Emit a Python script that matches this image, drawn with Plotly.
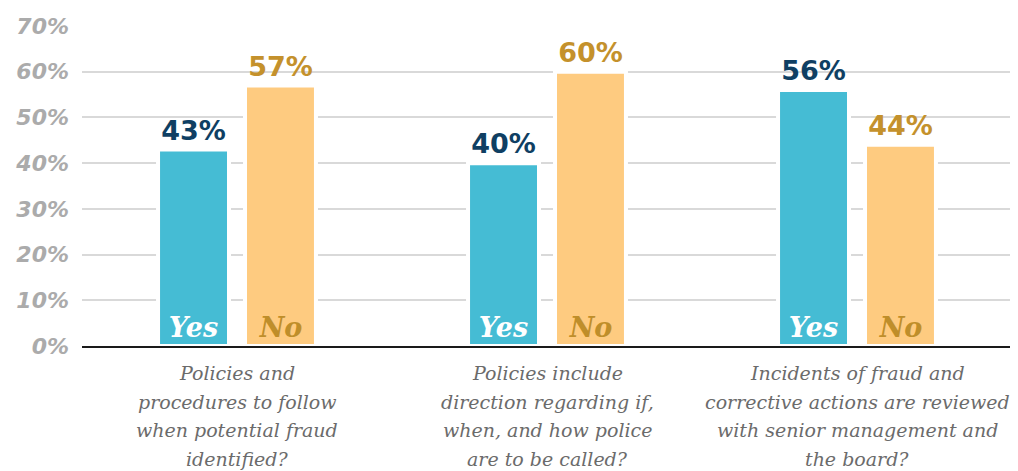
import plotly.graph_objects as go

categories = [
    ["Policies and", "procedures to follow", "when potential fraud", "identified?"],
    ["Policies include", "direction regarding if,", "when, and how police", "are to be called?"],
    ["Incidents of fraud and", "corrective actions are reviewed", "with senior management and", "the board?"],
]
yes_values = [43, 40, 56]
no_values = [57, 60, 44]
series_names = ["Yes", "No"]
y_ticks = [0, 10, 20, 30, 40, 50, 60, 70]

x = [0, 1, 2]
YES_C = "#45BCD4"
NO_C = "#FECB80"
NAVY = "#0F3F63"
GOLD = "#C4912C"

fig = go.Figure()
pct_font = dict(family="DejaVu Sans", size=32, weight="bold")
for name, vals, col, lab_col, in_col in [
    ("Yes", yes_values, YES_C, NAVY, "white"),
    ("No", no_values, NO_C, GOLD, "#BF8E2A"),
]:
    fig.add_trace(go.Bar(
        x=x, y=vals, name=name, offsetgroup=name,
        marker=dict(color=col, line=dict(color="white", width=4)),
        text=[f"{v}%" for v in vals], textposition="outside",
        textfont=dict(color=lab_col, **pct_font), cliponaxis=False,
        hoverinfo="skip",
    ))
    fig.add_trace(go.Bar(
        x=x, y=vals, name=name + "_label", offsetgroup=name,
        marker=dict(color="rgba(0,0,0,0)", line=dict(width=0)),
        text=[name] * len(vals), textposition="inside", insidetextanchor="start",
        textangle=0,
        insidetextfont=dict(family="DejaVu Serif", size=27, color=in_col,
                            weight="bold", style="italic"),
        hoverinfo="skip",
    ))

for i, lines in enumerate(categories):
    for j, line in enumerate(lines):
        fig.add_annotation(
            x=x[i], y=0, xref="x", yref="y", text=line, showarrow=False,
            yanchor="middle", xanchor="center", yshift=-27 - 28.5 * j,
            font=dict(family="DejaVu Serif", size=19, color="#6B6B6B", style="italic"),
        )

fig.update_layout(
    width=1010, height=463,
    margin=dict(l=74, r=6, t=18, b=125),
    plot_bgcolor="white", paper_bgcolor="white",
    barmode="group", bargap=0.439, bargroupgap=0.184,
    showlegend=False,
    uniformtext=dict(minsize=8, mode="show"),
)
fig.update_xaxes(
    range=[-0.5, 2.5], tickvals=x, showticklabels=False, ticks="",
    showline=True, linecolor="#1a1a1a", linewidth=2, showgrid=False, zeroline=False,
)
fig.update_yaxes(
    range=[0, 70], tickvals=y_ticks, ticktext=[f"{v}%" for v in y_ticks],
    showgrid=True, gridcolor="#D9D9D9", gridwidth=1.5, zeroline=False,
    showline=False, ticks="", ticklabelstandoff=12,
    tickfont=dict(family="DejaVu Sans", size=22, color="#ABABAB", weight="bold", style="italic"),
)

fig.write_html("out.html")
